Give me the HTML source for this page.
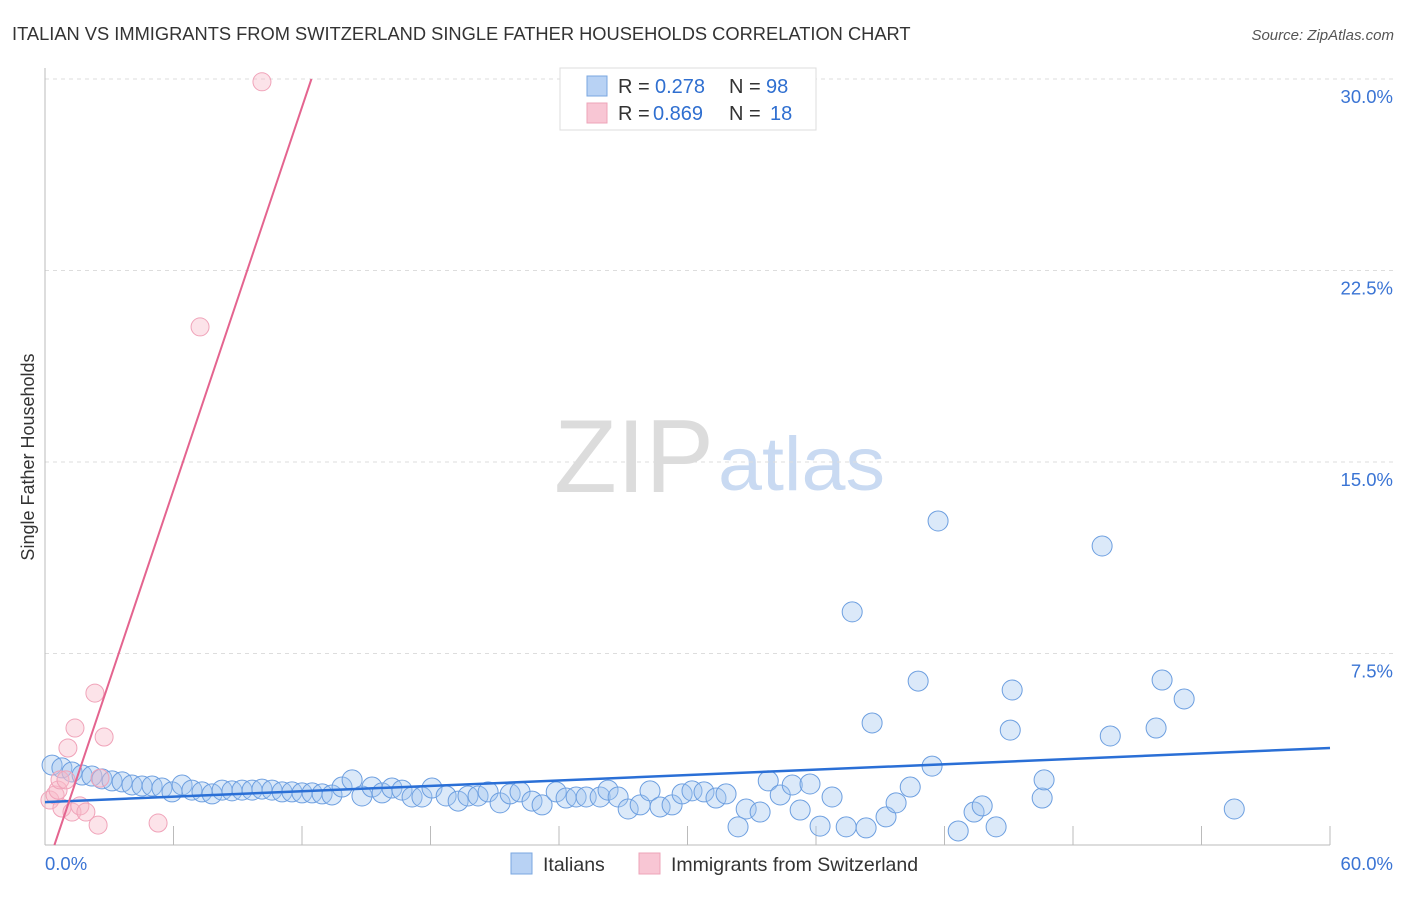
<!DOCTYPE html>
<html><head><meta charset="utf-8"><style>
body{margin:0;background:#fff;font-family:"Liberation Sans",sans-serif;}
svg text{font-family:"Liberation Sans",sans-serif;}
</style></head><body>
<svg id="chart" width="1406" height="892" viewBox="0 0 1406 892" xmlns="http://www.w3.org/2000/svg">
<text x="12" y="40" font-size="18.3" fill="#333">ITALIAN VS IMMIGRANTS FROM SWITZERLAND SINGLE FATHER HOUSEHOLDS CORRELATION CHART</text>
<text x="1394" y="40" font-size="15" fill="#555" text-anchor="end" font-style="italic">Source: ZipAtlas.com</text>
<g>
<text x="554" y="492" font-size="104" fill="#dcdcdc" font-family="Liberation Serif, serif" textLength="160" lengthAdjust="spacingAndGlyphs">ZIP</text>
<text x="718" y="490" font-size="76" fill="#c9daf2" textLength="167" lengthAdjust="spacingAndGlyphs">atlas</text>
</g>
<g id="grid"></g>
<g id="axes"></g>
<g id="marks"></g>
<g>
<rect x="560" y="68" width="256" height="62" fill="#fff" stroke="#ddd"/>
<rect x="587" y="76" width="20" height="20" fill="#b8d2f4" stroke="#7aa7e0"/>
<rect x="587" y="103" width="20" height="20" fill="#f8c6d4" stroke="#eea4b9"/>
<g font-size="20">
<text x="618" y="93" fill="#333">R =</text><text x="655" y="93" fill="#2f6fd0">0.278</text>
<text x="729" y="93" fill="#333">N =</text><text x="766" y="93" fill="#2f6fd0">98</text>
</g>
<g font-size="20">
<text x="618" y="120" fill="#333">R =</text><text x="653" y="120" fill="#2f6fd0">0.869</text>
<text x="729" y="120" fill="#333">N =</text><text x="770" y="120" fill="#2f6fd0">18</text>
</g>
</g>
<g>
<rect x="511" y="853" width="21" height="21" fill="#b8d2f4" stroke="#7aa7e0"/>
<text x="543" y="871" font-size="19.5" fill="#333">Italians</text>
<rect x="639" y="853" width="21" height="21" fill="#f8c6d4" stroke="#eea4b9"/>
<text x="671" y="871" font-size="19.5" fill="#333">Immigrants from Switzerland</text>
</g>
<text transform="translate(34,457) rotate(-90)" font-size="18" fill="#333" text-anchor="middle">Single Father Households</text>
</svg>
<script>
const blueX=[0.33,0.79,1.26,1.73,2.19,2.66,3.13,3.6,4.06,4.53,5.0,5.46,5.93,6.4,6.86,7.33,7.8,8.27,8.73,9.2,9.67,10.13,10.6,11.07,11.53,12.0,12.47,12.94,13.4,13.87,14.34,14.8,15.27,15.74,16.2,16.67,17.14,17.6,18.07,18.73,19.29,19.75,20.22,20.69,21.25,21.72,22.18,22.74,23.21,23.87,24.33,24.8,25.27,25.92,26.29,26.76,27.23,27.79,28.25,28.72,29.28,29.75,30.21,30.77,31.33,31.8,32.36,32.74,33.39,33.77,34.33,34.89,35.26,35.72,36.19,36.75,37.41,37.69,38.34,38.62,39.27,39.74,40.4,40.77,41.42,41.7,42.64,43.38,43.76,44.41,45.07,45.16,46.56,46.65,49.36,49.74,51.88,52.16,53.19,55.53];
const blueY=[3.13,3.02,2.86,2.74,2.7,2.59,2.51,2.47,2.35,2.31,2.31,2.23,2.08,2.35,2.15,2.08,2.0,2.15,2.12,2.15,2.15,2.19,2.15,2.08,2.08,2.04,2.04,2.0,1.96,2.27,2.55,1.92,2.27,2.04,2.23,2.15,1.88,1.88,2.23,1.92,1.72,1.92,1.92,2.08,1.65,2.0,2.08,1.72,1.57,2.08,1.84,1.88,1.88,1.88,2.15,1.88,1.41,1.57,2.12,1.49,1.57,2.0,2.12,2.08,1.84,2.0,0.71,1.41,1.29,2.51,1.96,2.35,1.37,2.39,0.74,1.88,0.71,9.13,0.67,4.78,1.1,1.65,2.27,6.42,3.09,12.69,0.55,1.29,1.53,0.71,4.5,6.07,1.84,2.55,11.71,4.27,4.58,6.46,5.72,1.41];
const pinkX=[0.23,0.47,0.61,0.7,0.79,0.98,1.07,1.26,1.4,1.63,1.91,2.33,2.48,2.57,2.76,5.28,7.24,10.13];
const pinkY=[1.76,1.96,2.15,2.55,1.45,2.55,3.8,1.29,4.58,1.53,1.29,5.95,0.78,2.62,4.23,0.86,20.29,29.89];
const blueTrend=[1.68,0.0353];   // intercept, slope
const pinkTrend=[-1.1,2.5];
const yTicks=[7.5,15,22.5,30];
const yTickLabels=["7.5%","15.0%","22.5%","30.0%"];
const xTicks=[0,6,12,18,24,30,36,42,48,54,60];
const xTickLabels=["0.0%","60.0%"];

const X0=45,X1=1330,Y0=845,Y1=79;
const sx=v=>X0+(X1-X0)*v/60;
const sy=v=>Y0-(Y0-Y1)*v/30;
const NS="http://www.w3.org/2000/svg";
function mk(tag,attrs,parent){const e=document.createElementNS(NS,tag);for(const k in attrs)e.setAttribute(k,attrs[k]);parent.appendChild(e);return e;}
const grid=document.getElementById('grid'),axes=document.getElementById('axes'),marks=document.getElementById('marks');
yTicks.forEach((t,i)=>{
  const l=mk('line',{x1:X0,x2:1395,y1:sy(t),y2:sy(t),stroke:'#ddd','stroke-dasharray':'4,4'},grid);
  
  
  const tx=mk('text',{x:1393,y:sy(t)+24,'font-size':18.5,fill:'#3a74d4','text-anchor':'end'},axes);
  tx.textContent=yTickLabels[i];
  
  
});
let a=mk('line',{x1:X0,x2:X0,y1:68,y2:Y0,stroke:'#bbb'},axes);


a=mk('line',{x1:X0,x2:X1,y1:Y0,y2:Y0,stroke:'#bbb'},axes);


xTicks.forEach(t=>{
  const l=mk('line',{x1:sx(t),x2:sx(t),y1:826,y2:Y0,stroke:'#bbb'},axes);
  
  
});
[[0,'start',X0],[1,'end',1393]].forEach(([i,anc,x])=>{
  const tx=mk('text',{x:x,y:870,'font-size':18.5,fill:'#3a74d4','text-anchor':anc},axes);
  tx.textContent=xTickLabels[i];
  
  
});
blueX.forEach((x,i)=>{
  const c=mk('circle',{cx:sx(x),cy:sy(blueY[i]),r:10,fill:'rgba(160,196,240,0.38)',stroke:'#6d9fe0','stroke-width':1},marks);
  
  
});
pinkX.forEach((x,i)=>{
  const c=mk('circle',{cx:sx(x),cy:sy(pinkY[i]),r:9,fill:'rgba(248,184,200,0.4)',stroke:'#f0a3b9','stroke-width':1},marks);
  
  
});
let t=mk('line',{x1:sx(0),y1:sy(blueTrend[0]),x2:sx(60),y2:sy(blueTrend[0]+blueTrend[1]*60),stroke:'#2a6fd6','stroke-width':2.5},marks);


const px0=-pinkTrend[0]/pinkTrend[1], px1=(30-pinkTrend[0])/pinkTrend[1];
t=mk('line',{x1:sx(px0),y1:sy(0),x2:sx(px1),y2:sy(30),stroke:'#e4648f','stroke-width':2},marks);


</script>
</body></html>
